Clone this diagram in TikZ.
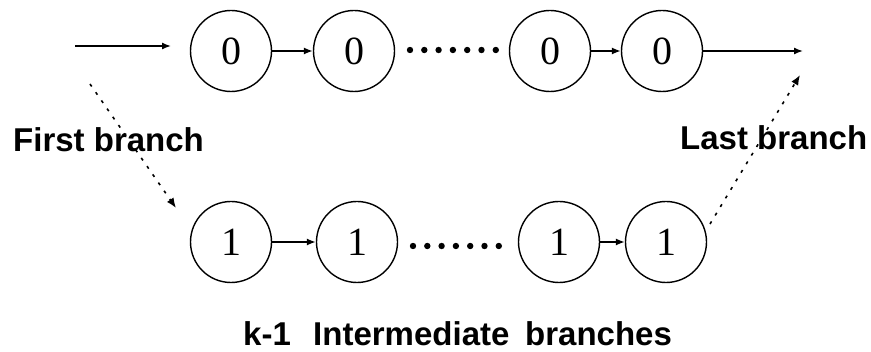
\documentclass[tikz,border=0pt]{standalone}
\usepackage{fontspec}
\setmainfont{Liberation Serif}
\setsansfont{Liberation Sans}
\usetikzlibrary{arrows.meta}
\begin{document}
\begin{tikzpicture}[x=1pt,y=-1pt,
  state/.style={circle,draw,line width=1.4pt,minimum size=81pt,inner sep=0pt,font=\fontsize{40}{40}\selectfont},
  link/.style={line width=1.4pt,-{Latex[length=9pt,width=7pt]}},
  branch/.style={line width=1.6pt,dash pattern=on 3pt off 7pt,-{Latex[length=10pt,width=8pt]}},
  label/.style={font=\sffamily\bfseries\fontsize{33}{33}\selectfont,inner sep=0pt},
  dot/.style={fill,radius=3.2pt}]
\useasboundingbox (0,0) rectangle (871,352);
% upper chain of zero states
\node[state] (a1) at (231,51) {0};
\node[state] (a2) at (354,51) {0};
\node[state] (a3) at (550,51) {0};
\node[state] (a4) at (662,51) {0};
% lower chain of one states
\node[state] (b1) at (231,242) {1};
\node[state] (b2) at (357,242) {1};
\node[state] (b3) at (559,242) {1};
\node[state] (b4) at (666,242) {1};
% ellipsis between the chain ends
\foreach \i in {0,...,6} {
  \fill[dot] (410+14.3*\i,50) circle;
  \fill[dot] (413+14.3*\i,246) circle;
}
% input and output lines
\coordinate (in) at (75,46);
\coordinate (inend) at (171,46);
\coordinate (out) at (803,51);
\draw[link] (in) -- (inend);
\draw[link] (a1) -- (a2);
\draw[link] (a3) -- (a4);
\draw[link] (a4) -- (out);
\draw[link] (b1) -- (b2);
\draw[link] (b3) -- (b4);
% branch arrows
\coordinate (fs) at (90,84);
\coordinate (fe) at (176,208);
\coordinate (ls) at (710,224);
\coordinate (le) at (800,75);
\draw[branch] (fs) -- (fe);
\draw[branch] (ls) -- (le);
% labels
\node[label,anchor=west] (lf) at (13,140) {First branch};
\node[label,anchor=west] (ll) at (680,138) {Last branch};
\node[label,anchor=west] (lk) at (243,334) {k-1\hspace{0.4em} Intermediate\hspace{0.2em} branches};
\end{tikzpicture}
\end{document}
